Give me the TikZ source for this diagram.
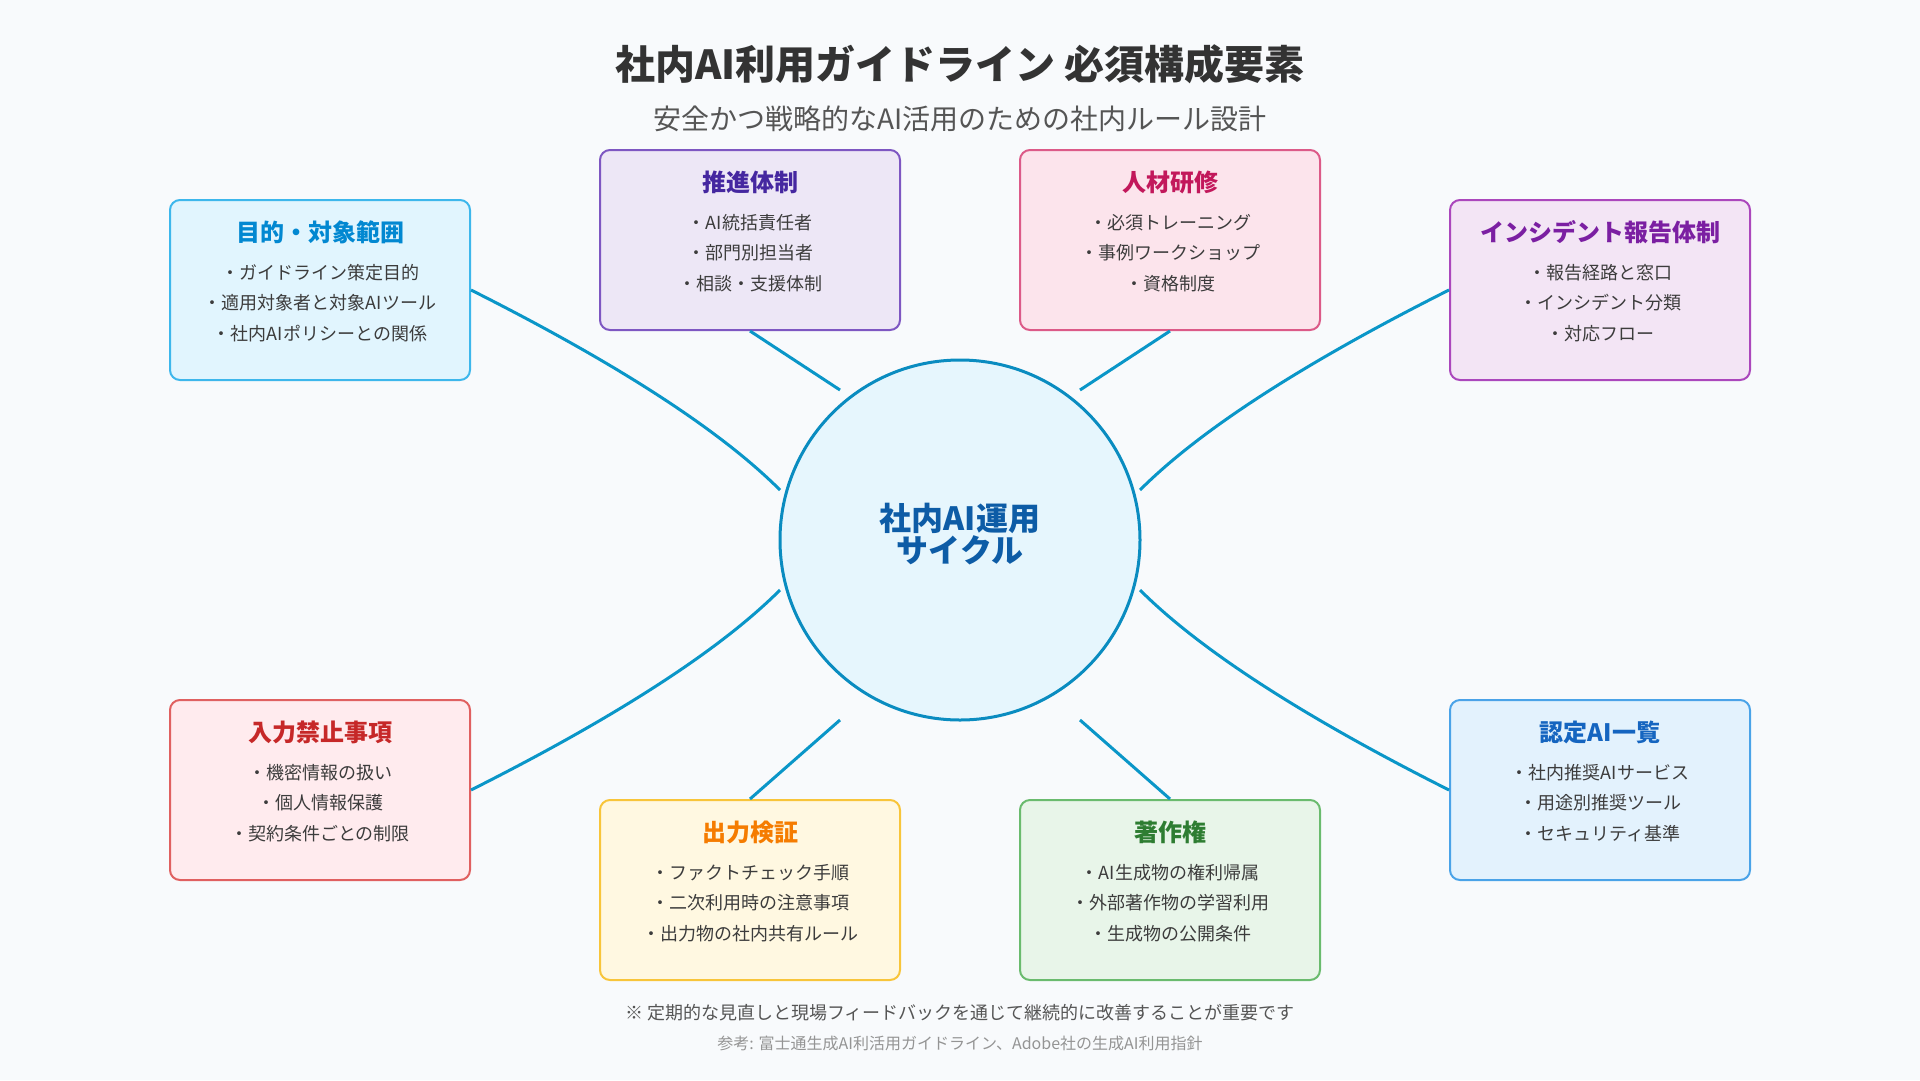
\documentclass[tikz,border=0pt]{standalone}
\usepackage{fontspec}
\setmainfont{Noto Sans CJK JP}
\usetikzlibrary{calc}

% palette
\definecolor{bg}{HTML}{F8FAFC}
\definecolor{ink}{HTML}{333333}
\definecolor{subink}{HTML}{555555}
\definecolor{itemink}{HTML}{3C3C3C}
\definecolor{linkc}{HTML}{0A96C8}
\definecolor{hubfill}{HTML}{E6F6FD}
\definecolor{hubline}{HTML}{0A8CC0}
\definecolor{hubink}{HTML}{0D5CA6}

\definecolor{cAfill}{HTML}{E1F5FE}\definecolor{cAline}{HTML}{3DB7EC}\definecolor{cAtitle}{HTML}{0288D1}
\definecolor{cBfill}{HTML}{EDE7F6}\definecolor{cBline}{HTML}{7E57C2}\definecolor{cBtitle}{HTML}{4527A0}
\definecolor{cCfill}{HTML}{FCE4EC}\definecolor{cCline}{HTML}{DC5A88}\definecolor{cCtitle}{HTML}{C2185B}
\definecolor{cDfill}{HTML}{F3E5F5}\definecolor{cDline}{HTML}{AB47BC}\definecolor{cDtitle}{HTML}{7B1FA2}
\definecolor{cEfill}{HTML}{FFEBEE}\definecolor{cEline}{HTML}{E06060}\definecolor{cEtitle}{HTML}{C62828}
\definecolor{cFfill}{HTML}{FFF8E1}\definecolor{cFline}{HTML}{F8C53A}\definecolor{cFtitle}{HTML}{F57C00}
\definecolor{cGfill}{HTML}{E8F5E9}\definecolor{cGline}{HTML}{6ABB6E}\definecolor{cGtitle}{HTML}{2E7D32}
\definecolor{cHfill}{HTML}{E3F2FD}\definecolor{cHline}{HTML}{4AA3E8}\definecolor{cHtitle}{HTML}{1565C0}

\tikzset{
  card/.style={rectangle, rounded corners=10pt, line width=2pt,
    minimum width=300pt, minimum height=180pt, inner sep=0pt},
  cardtitle/.style={inner sep=0pt, font=\fontsize{24}{28}\selectfont\bfseries},
  carditem/.style={inner sep=0pt, text=itemink, font=\fontsize{18}{22}\selectfont},
  link/.style={draw=linkc, line width=3pt},
  hub/.style={circle, minimum size=360pt, inner sep=0pt, fill=hubfill,
    draw=hubline, line width=3pt},
}

% one labelled card: name, centre x, top y, colour prefix, title, three items
\newcommand{\card}[8]{%
  \node[card, fill=#4fill, draw=#4line] (#1) at (#2,#3+90) {};
  \node[cardtitle, text=#4title] (#1-t) at (#2,#3+32) {#5};
  \node[carditem] (#1-a) at (#2,#3+73) {・#6};
  \node[carditem] (#1-b) at (#2,#3+103) {・#7};
  \node[carditem] (#1-c) at (#2,#3+134) {・#8};
}

\begin{document}
\begin{tikzpicture}[x=1pt, y=-1pt]
  \fill[bg] (0,0) rectangle (1920,1080);
  \useasboundingbox (0,0) rectangle (1920,1080);

  % headings
  \node[inner sep=0pt, text=ink, font=\fontsize{40}{46}\selectfont\bfseries] (title) at (960,64)
    {社内AI利用ガイドライン 必須構成要素};
  \node[inner sep=0pt, text=subink, font=\fontsize{28}{32}\selectfont] (subtitle) at (960,119)
    {安全かつ戦略的なAI活用のための社内ルール設計};

  % cards
  \card{purpose}{320}{200}{cA}{目的・対象範囲}{ガイドライン策定目的}{適用対象者と対象AIツール}{社内AIポリシーとの関係}
  \card{promo}{750}{150}{cB}{推進体制}{AI統括責任者}{部門別担当者}{相談・支援体制}
  \card{train}{1170}{150}{cC}{人材研修}{必須トレーニング}{事例ワークショップ}{資格制度}
  \card{incident}{1600}{200}{cD}{インシデント報告体制}{報告経路と窓口}{インシデント分類}{対応フロー}
  \card{banned}{320}{700}{cE}{入力禁止事項}{機密情報の扱い}{個人情報保護}{契約条件ごとの制限}
  \card{verify}{750}{800}{cF}{出力検証}{ファクトチェック手順}{二次利用時の注意事項}{出力物の社内共有ルール}
  \card{copyright}{1170}{800}{cG}{著作権}{AI生成物の権利帰属}{外部著作物の学習利用}{生成物の公開条件}
  \card{approved}{1600}{700}{cH}{認定AI一覧}{社内推奨AIサービス}{用途別推奨ツール}{セキュリティ基準}

  % connector ends next to the hub
  \coordinate (hUL) at (780,490);
  \coordinate (hLL) at (780,590);
  \coordinate (hUR) at (1140,490);
  \coordinate (hLR) at (1140,590);
  \coordinate (hTL) at (840,390);
  \coordinate (hTR) at (1080,390);
  \coordinate (hBL) at (840,720);
  \coordinate (hBR) at (1080,720);

  % connectors
  \draw[link] (purpose.east) .. controls (616.7,363.3) and (720,430) .. (hUL);
  \draw[link] (banned.east) .. controls (616.7,716.7) and (720,650) .. (hLL);
  \draw[link] (incident.west) .. controls (1303.3,363.3) and (1200,430) .. (hUR);
  \draw[link] (approved.west) .. controls (1303.3,716.7) and (1200,650) .. (hLR);
  \draw[link] (promo.south) -- (hTL);
  \draw[link] (train.south) -- (hTR);
  \draw[link] (verify.north) -- (hBL);
  \draw[link] (copyright.north) -- (hBR);

  % hub
  \node[hub] (hub) at (960,540) {};
  \node[inner sep=0pt, align=center, text=hubink,
        font=\fontsize{32}{32}\selectfont\bfseries] (hubtext) at (960,534)
    {社内AI運用\\サイクル};

  % footnotes
  \node[inner sep=0pt, text=subink, font=\fontsize{18}{22}\selectfont] (note) at (960,1013)
    {※ 定期的な見直しと現場フィードバックを通じて継続的に改善することが重要です};
  \node[inner sep=0pt, text=black!42, font=\fontsize{16}{19}\selectfont] (source) at (960,1043)
    {参考: 富士通生成AI利活用ガイドライン、Adobe社の生成AI利用指針};
\end{tikzpicture}
\end{document}
